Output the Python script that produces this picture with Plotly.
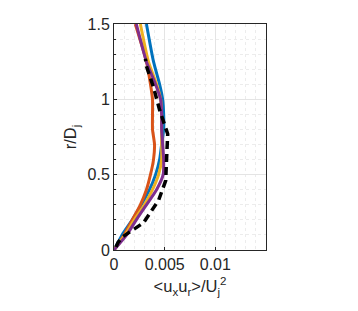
import plotly.graph_objects as go

# r/Dj grid shared by simulation profiles
r_sim = [0.0, 0.1, 0.2, 0.3, 0.4, 0.5, 0.6, 0.7, 0.8, 0.9, 1.0, 1.1, 1.25, 1.5]

blue   = [0.0, 0.0008, 0.0018, 0.0027, 0.0035, 0.0041, 0.0045, 0.0047, 0.0049, 0.0049, 0.0048, 0.0045, 0.0039, 0.0032]
orange = [0.0, 0.0010, 0.0018, 0.0026, 0.0032, 0.0036, 0.0039, 0.0040, 0.0038, 0.0038, 0.0038, 0.0036, 0.0032, 0.0021]
yellow = [0.0, 0.0011, 0.0020, 0.0030, 0.0038, 0.0044, 0.0047, 0.0047, 0.0047, 0.0047, 0.0046, 0.0042, 0.0034, 0.0026]
purple = [0.0, 0.00125, 0.0022, 0.0032, 0.0042, 0.00485, 0.0049, 0.0048, 0.0047, 0.0047, 0.0046, 0.0041, 0.0032, 0.0022]

# experimental profile (black dashed)
r_exp = [0.02, 0.05, 0.09, 0.18, 0.33, 0.46, 0.62, 0.77, 0.93, 1.08, 1.22, 1.27]
x_exp = [0.0002, 0.0004, 0.0009, 0.0029, 0.0044, 0.0051, 0.0052, 0.0053, 0.0045, 0.0039, 0.0032, 0.0031]

x_ticks = [0, 0.005, 0.01]
x_tick_text = ["0", "0.005", "0.01"]
y_ticks = [0, 0.5, 1, 1.5]
y_tick_text = ["0", "0.5", "1", "1.5"]

FONT = "Liberation Sans, Arial, Helvetica, sans-serif"

fig = go.Figure()
for vals, col in [(blue, "#0072BD"), (orange, "#D95319"), (yellow, "#EDB120"), (purple, "#7E2F8E")]:
    fig.add_trace(go.Scatter(x=vals, y=r_sim, mode="lines",
                             line=dict(color=col, width=3, shape="spline", smoothing=0.6),
                             showlegend=False))
fig.add_trace(go.Scatter(x=x_exp, y=r_exp, mode="lines",
                         line=dict(color="black", width=3.5, dash="8px,5px"),
                         showlegend=False))

axis_common = dict(
    showline=True, linecolor="#262626", linewidth=1, mirror=True,
    ticks="inside", ticklen=3, tickcolor="#262626",
    showgrid=True, gridcolor="#e4e4e4", gridwidth=1,
    zeroline=False,
    tickfont=dict(family=FONT, size=16, color="#262626"),
)

fig.update_xaxes(range=[0, 0.015], tickvals=x_ticks, ticktext=x_tick_text,
                 minor=dict(dtick=0.001, showgrid=True, gridcolor="#ececec", griddash="dot", ticks=""),
                 title=dict(text="&lt;u<sub>x</sub>u<sub>r</sub>&gt;/U<sub>j</sub><sup>2</sup>",
                            font=dict(family=FONT, size=16.5, color="#262626"),
                            standoff=8),
                 **axis_common)
fig.update_yaxes(range=[0, 1.5], tickvals=y_ticks, ticktext=y_tick_text,
                 minor=dict(dtick=0.1, showgrid=True, gridcolor="#ececec", griddash="dot", ticks="inside",
                            ticklen=2, tickcolor="#262626"),
                 title=dict(text="r/D<sub>j</sub>",
                            font=dict(family=FONT, size=16.5, color="#262626"),
                            standoff=6),
                 **axis_common)

fig.update_layout(width=358, height=311,
                  margin=dict(l=106, r=100, t=16, b=69, autoexpand=False),
                  paper_bgcolor="white", plot_bgcolor="white")

fig.write_html("out.html")
